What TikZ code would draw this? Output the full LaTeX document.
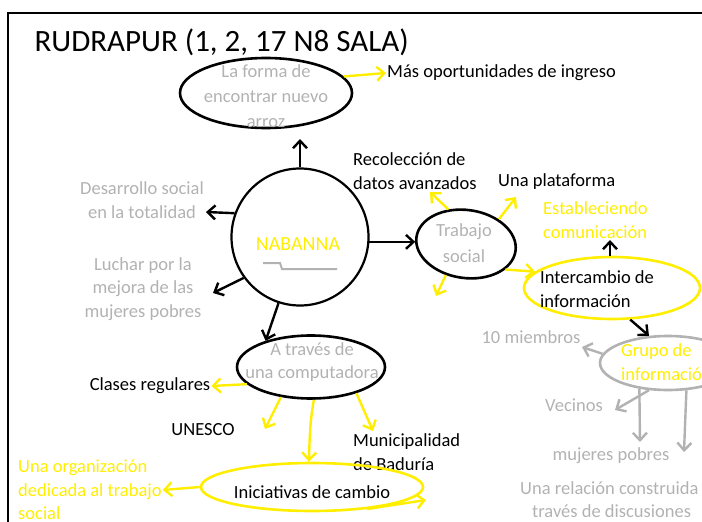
\documentclass[tikz,border=0pt]{standalone}
\usepackage{fontspec}
\setmainfont{Carlito}
\usetikzlibrary{shapes.geometric,arrows.meta,positioning}
\definecolor{hiyellow}{RGB}{255,238,0}
\definecolor{softgray}{RGB}{178,178,178}

\begin{document}
\begin{tikzpicture}[x=1pt, y=-1pt,
        lbl/.style={font=\fontsize{18.5}{23.5}\selectfont, inner sep=1pt, align=center},
        graylbl/.style={lbl, text=softgray},
        yellowlbl/.style={lbl, text=hiyellow},
        bubble/.style={draw, ellipse, line width=2.6pt, inner sep=0pt},
        blackarrow/.style={line width=2.4pt, -{Straight Barb[length=7.5pt,width=14pt]}},
        yellowarrow/.style={blackarrow, draw=hiyellow},
        grayarrow/.style={blackarrow, draw=softgray}]

        \useasboundingbox (0,0) rectangle (702,522);
        \clip (0,0) rectangle (702,522);

        % frame and title
        \draw[line width=1.4pt] (8,522) -- (8,13) -- (702,13);
        \node[font=\fontsize{31}{33}\selectfont, anchor=west] (Title) at (31,42)
        {RUDRAPUR (1, 2, 17 N8 SALA)};

        \begin{scope}
            \node[bubble, minimum width=172pt, minimum height=70pt] (Forma) at (266,93) {};
            \node[graylbl, font=\fontsize{18.5}{25}\selectfont] (FormaTxt) at (266,96)
            {La forma de\\encontrar nuevo\\arroz};
            \node[lbl, anchor=west] (Mas) at (386,73) {Más oportunidades de ingreso};

            \node[draw, circle, line width=2.2pt, minimum size=137pt] (Nab) at (300,237) {};
            \node[lbl, text=hiyellow, font=\fontsize{20}{23}\selectfont] (NabTxt) at (298,244) {NABANNA};

            \node[graylbl, anchor=east] (Desarrollo) at (205,200)
            {Desarrollo social\\en la totalidad};
            \node[graylbl] (Luchar) at (143,289)
            {Luchar por la\\mejora de las\\mujeres pobres};

            \node[bubble, minimum width=148pt, minimum height=63pt] (Compu) at (311,367) {};
            \node[graylbl] (CompuTxt) at (312,362) {A través de\\una computadora};

            \node[bubble, minimum width=100pt, minimum height=68pt, rotate=-8] (Trabajo) at (466,244) {};
            \node[graylbl, font=\fontsize{18.5}{26}\selectfont] (TrabajoTxt) at (464,243) {Trabajo\\social};

            \node[lbl, anchor=west, align=left] (Recol) at (352,171)
            {Recolección de\\datos avanzados};
            \node[lbl, anchor=west] (Plataforma) at (497,182) {Una plataforma};
            \node[yellowlbl, anchor=west, align=left] (Estable) at (542,220)
            {Estableciendo\\comunicación};

            \node[bubble, draw=hiyellow, minimum width=176pt, minimum height=62pt] (Inter) at (612,288) {};
            \node[lbl, anchor=west, align=left] (InterTxt) at (539,289)
            {Intercambio de\\información};

            \node[graylbl] (Miembros) at (531,337) {10 miembros};
            \node[bubble, draw=softgray, minimum width=136pt, minimum height=54pt] (Grupo) at (668,363) {};
            \node[yellowlbl, anchor=west, align=left] (GrupoTxt) at (620,362)
            {Grupo de\\información};
            \node[graylbl] (Vecinos) at (574,405) {Vecinos};
            \node[graylbl] (Mujeres) at (611,456) {mujeres pobres};
            \node[graylbl, anchor=north west, align=left] (Relacion) at (519,480)
            {Una relación construida a\\\hspace*{12pt}través de discusiones};

            \node[lbl] (Clases) at (150,386) {Clases regulares};
            \node[lbl] (Unesco) at (203,430) {UNESCO};
            \node[lbl, anchor=west, align=left] (Muni) at (352,452)
            {Municipalidad\\de Baduría};

            \node[bubble, draw=hiyellow, minimum width=222pt, minimum height=48pt] (Inic) at (312,487) {};
            \node[lbl] (InicTxt) at (312,492) {Iniciativas de cambio};
            \node[yellowlbl, anchor=west, align=left] (Org) at (17,490)
            {Una organización\\dedicada al trabajo\\social};
        \end{scope}

        % underline below NABANNA
        \draw[softgray, line width=2pt] (263,263) -- (280,263) -- (282,269) -- (337,269);

        % free arrow ends
        \coordinate (FormaTip) at (300,139);
        \coordinate (DesTip) at (206,212);
        \coordinate (LucTip) at (213,293);
        \coordinate (RecolTip) at (430,192);
        \coordinate (PlatTip) at (516,197);
        \coordinate (LowTip) at (436,296);
        \coordinate (EstTip) at (610,240);
        \coordinate (MiemTip) at (582,347);
        \coordinate (VecTip) at (615,410);
        \coordinate (MujTip) at (640,442);
        \coordinate (RelTip) at (684,452);
        \coordinate (UnescoTip) at (265,429);
        \coordinate (MuniTip) at (373,431);
        \coordinate (InicTip) at (426,500);

        \begin{scope}
            \draw[blackarrow] (Nab.north) -- (FormaTip);
            \draw[blackarrow] (Nab.160) -- (DesTip);
            \draw[blackarrow] (Nab.216) -- (LucTip);
            \draw[blackarrow] (Nab.252) -- (Compu.150);
            \draw[blackarrow] (Nab.-4) -- (Nab.-4 -| Trabajo.west);

            \draw[yellowarrow] (Forma.12) -- (Mas.west);
            \draw[yellowarrow] (Trabajo.125) -- (RecolTip);
            \draw[yellowarrow] (Trabajo.45) -- (PlatTip);
            \draw[yellowarrow] (Trabajo.245) -- (LowTip);
            \draw[yellowarrow] (Trabajo.-25) -- (Inter.168);

            \draw[blackarrow] (Inter.north -| EstTip) -- (EstTip);
            \draw[blackarrow] (Inter.-60) -- (Grupo.125);

            \draw[grayarrow] (Grupo.172) -- (MiemTip);
            \draw[grayarrow] (Grupo.235) -- (VecTip);
            \draw[grayarrow] (Grupo.222) -- (MujTip);
            \draw[grayarrow] (Grupo.-56) -- (RelTip);

            \draw[yellowarrow] (Compu.195) -- (Clases.east);
            \draw[yellowarrow] (Compu.225) -- (UnescoTip);
            \draw[yellowarrow] (Compu.275) to[out=-100, in=88] (Inic.97);
            \draw[yellowarrow] (Compu.-30) -- (MuniTip);
            \draw[yellowarrow] (Inic.west) -- (Org.east);
            \draw[yellowarrow] (Inic.-22) -- (InicTip);
        \end{scope}

\end{tikzpicture}
\end{document}
